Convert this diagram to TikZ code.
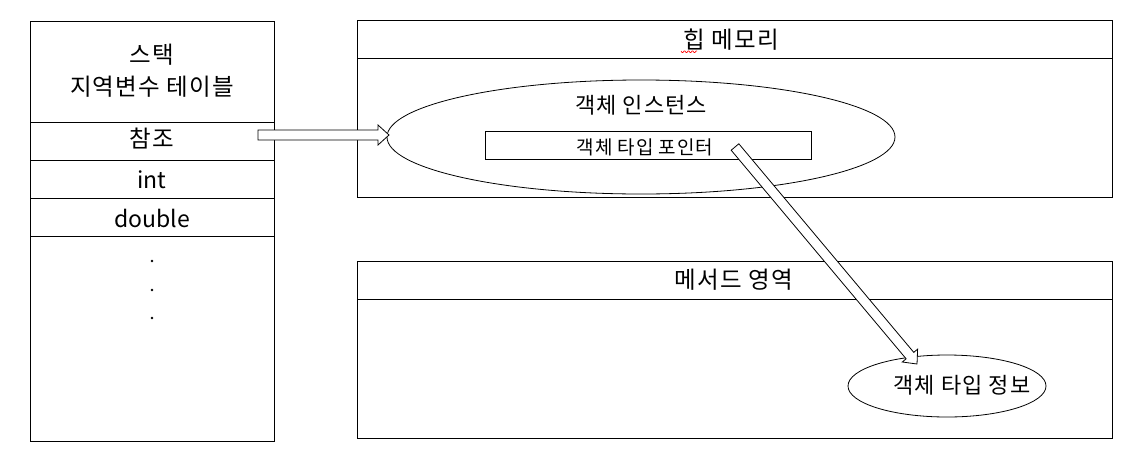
\documentclass[tikz,border=0pt]{standalone}
\usepackage{fontspec}
\setmainfont{Noto Sans CJK KR}
\newfontfamily\krfont[LetterSpace=5]{Noto Sans CJK KR}
\usetikzlibrary{shapes.geometric,calc}
\tikzset{
  frame/.style={draw, line width=0.8pt},
  lbl/.style={inner sep=0pt, anchor=center},
  big/.style={lbl, font=\krfont\fontsize{23.5}{28}\selectfont},
  mid/.style={lbl, font=\krfont\fontsize{22}{26}\selectfont},
  small/.style={lbl, font=\krfont\fontsize{19}{23}\selectfont},
  latin/.style={lbl, font=\fontsize{23}{27}\selectfont},
  blockarrow/.style={draw, line width=0.8pt, fill=white, line join=miter},
}
\newcommand{\hollowarrow}[2]{%
  \draw[blockarrow] let \p1=(#1), \p2=(#2),
    \n1={atan2(\y2-\y1,\x2-\x1)}, \n2={veclen(\x2-\x1,\y2-\y1)} in
    [shift={(\p1)}, rotate=\n1]
    (0,-5) -- (\n2-11,-5) -- (\n2-11,-10) -- (\n2,0) -- (\n2-11,10) -- (\n2-11,5) -- (0,5) -- cycle;}
\begin{document}
\begin{tikzpicture}[x=1pt,y=-1pt]
\useasboundingbox[fill=white] (0,0) rectangle (1142,461);
% stack
\draw[frame] (30,21) rectangle (274,441);
\draw[frame] (30,122.5) -- (274,122.5);
\draw[frame] (30,160.5) -- (274,160.5);
\draw[frame] (30,198.5) -- (274,198.5);
\draw[frame] (30,236.5) -- (274,236.5);
\node[big] (stk) at (152,55) {스택};
\node[big] (tbl) at (152,87) {지역변수 테이블};
\node[big] (ref) at (152,139) {참조};
\node[latin] (int) at (152,180) {int};
\node[latin] (dbl) at (152,218) {double};
\fill (152,261) circle (1.3) (152,290) circle (1.3) (152,318) circle (1.3);
% heap
\draw[frame] (357,20) rectangle (1112,197);
\draw[frame] (357,58.5) -- (1112,58.5);
\node[big] (heap) at (731,40) {힙 메모리};
\draw[red, line width=0.6pt] (681,51) \foreach \i in {0,...,7} { -- ++(1,{mod(\i,2)==0 ? 1.5 : -1.5}) -- ++(1,0)};
\node[ellipse, frame, minimum width=508, minimum height=114, inner sep=0pt] (inst) at (641,137) {};
\node[mid] (instlbl) at (641,105) {객체 인스턴스};
\node[frame, minimum width=326, minimum height=28, inner sep=0pt] (ptr) at (648,145) {};
\node[small] (ptrlbl) at (645,147) {객체 타입 포인터};
% method area
\draw[frame] (357,261.5) rectangle (1112,438);
\draw[frame] (357,299) -- (1112,299);
\node[big] (meth) at (734,280) {메서드 영역};
\node[ellipse, frame, minimum width=198, minimum height=62, inner sep=0pt] (info) at (947,386) {};
\node[mid] (infolbl) at (962,385) {객체 타입 정보};
% arrows
\coordinate (a1s) at (258,135);
\coordinate (a1e) at (389,135);
\coordinate (a2s) at (735,147);
\coordinate (a2e) at (917,364);
\hollowarrow{a1s}{a1e}
\hollowarrow{a2s}{a2e}
\end{tikzpicture}
\end{document}
